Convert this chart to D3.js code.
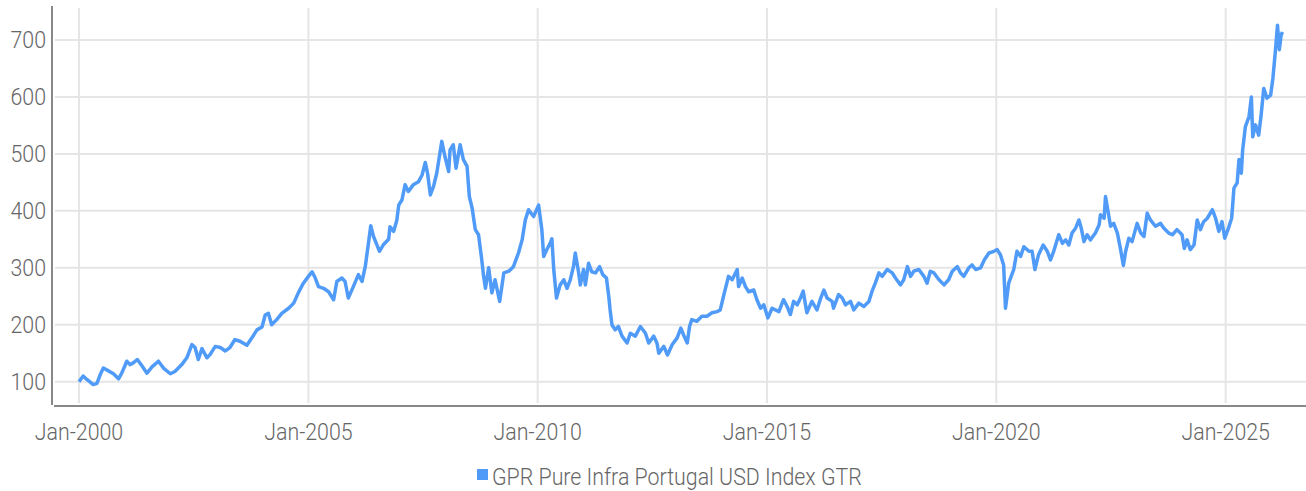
<!DOCTYPE html>
<html>
<head>
<meta charset="utf-8">
<script src="https://cdn.jsdelivr.net/npm/d3@7"></script>
<style>
  html, body { margin: 0; padding: 0; background: #fff; }
  svg { display: block; }
  text { font-family: Roboto, "Liberation Sans Narrow", sans-serif; font-weight: 300; fill: #666; }
</style>
</head>
<body>
<svg id="chart" width="1306" height="491"></svg>
<script>
// ---- data ----
const seriesName = "GPR Pure Infra Portugal USD Index GTR";
const yTicks = [100, 200, 300, 400, 500, 600, 700];
const xTickYears = [2000, 2005, 2010, 2015, 2020, 2025];
// time in decimal years
const time = [
  2000.00,2000.09,2000.17,2000.31,2000.39,2000.46,2000.53,2000.64,2000.75,2000.86,2000.93,
  2001.04,2001.11,2001.18,2001.27,2001.37,2001.48,2001.59,2001.73,2001.84,2001.99,
  2002.09,2002.24,2002.35,2002.46,2002.53,2002.60,2002.68,2002.79,2002.86,2002.97,
  2003.08,2003.19,2003.29,2003.40,2003.51,2003.66,2003.77,2003.88,2003.99,
  2004.06,2004.13,2004.20,2004.31,2004.42,2004.57,2004.68,2004.78,2004.89,2005.00,
  2005.08,2005.15,2005.22,2005.33,2005.44,2005.55,2005.62,2005.73,2005.80,2005.87,2005.98,
  2006.09,2006.17,2006.24,2006.31,2006.36,2006.42,2006.49,2006.55,2006.64,2006.75,2006.78,2006.86,2006.93,2006.97,
  2007.04,2007.11,2007.18,2007.29,2007.40,2007.48,2007.55,2007.60,2007.66,2007.73,2007.80,2007.88,2007.91,2007.98,
  2008.06,2008.09,2008.16,2008.22,2008.31,2008.38,2008.46,2008.51,2008.57,2008.64,2008.71,2008.78,2008.82,2008.86,2008.93,
  2009.00,2009.07,2009.17,2009.26,2009.37,2009.47,2009.58,2009.66,2009.73,2009.80,2009.91,
  2010.02,2010.09,2010.13,2010.20,2010.27,2010.31,2010.35,2010.41,2010.49,2010.57,2010.64,2010.71,2010.78,2010.82,2010.89,2010.93,
  2011.00,2011.04,2011.11,2011.18,2011.26,2011.35,2011.42,2011.50,2011.55,2011.58,2011.62,2011.69,2011.76,2011.84,2011.95,
  2012.02,2012.13,2012.24,2012.35,2012.42,2012.53,2012.60,2012.64,2012.75,2012.83,2012.93,
  2013.04,2013.12,2013.18,2013.26,2013.31,2013.36,2013.47,2013.58,2013.69,2013.80,2013.91,2013.98,
  2014.06,2014.16,2014.24,2014.35,2014.38,2014.46,2014.53,2014.60,2014.71,2014.78,2014.86,2014.93,
  2015.02,2015.11,2015.26,2015.36,2015.44,2015.51,2015.58,2015.66,2015.73,2015.79,2015.87,2015.98,
  2016.09,2016.16,2016.24,2016.31,2016.42,2016.45,2016.56,2016.64,2016.71,2016.82,2016.89,
  2017.00,2017.11,2017.22,2017.29,2017.36,2017.44,2017.51,2017.62,2017.73,2017.80,2017.91,2017.98,
  2018.06,2018.13,2018.20,2018.31,2018.42,2018.49,2018.56,2018.64,2018.75,2018.86,2018.96,
  2019.04,2019.15,2019.22,2019.29,2019.40,2019.47,2019.55,2019.66,2019.74,2019.84,2019.95,
  2020.02,2020.09,2020.16,2020.20,2020.27,2020.31,2020.38,2020.45,2020.53,2020.60,2020.71,2020.78,2020.84,2020.92,
  2021.02,2021.11,2021.18,2021.25,2021.36,2021.44,2021.51,2021.58,2021.65,2021.73,2021.80,2021.85,2021.91,2021.98,
  2022.05,2022.16,2022.24,2022.27,2022.35,2022.38,2022.43,2022.49,2022.56,2022.64,2022.71,2022.77,2022.82,2022.89,2022.96,
  2023.07,2023.15,2023.22,2023.29,2023.36,2023.47,2023.58,2023.65,2023.76,2023.84,2023.94,
  2024.05,2024.10,2024.16,2024.23,2024.31,2024.38,2024.45,2024.52,2024.60,2024.71,2024.78,2024.85,2024.92,2024.98,
  2025.07,2025.13,2025.18,2025.25,2025.29,2025.34,2025.37,2025.43,2025.51,2025.56,2025.59,2025.65,2025.72,2025.77,2025.83,2025.90,2025.98,
  2026.03,2026.08,2026.13,2026.17,2026.21,2026.24
];
const values = [
  100,110,104,95,97,112,124,119,114,105,115,
  136,130,133,139,128,115,126,136,124,114,
  118,130,142,165,160,139,158,142,148,162,
  160,154,160,174,171,164,177,191,196,
  217,220,200,209,220,229,238,256,273,285,
  293,282,267,264,258,244,276,282,276,247,267,
  288,276,302,343,374,355,341,329,341,350,372,364,384,410,
  419,446,434,446,451,463,485,466,428,443,466,507,522,495,
  469,507,516,475,516,490,478,425,405,367,358,314,285,264,300,
  256,279,241,291,294,302,326,349,384,402,390,
  410,367,320,332,343,351,297,247,270,279,264,279,302,326,293,270,
  297,270,308,293,291,302,288,282,250,226,200,191,197,180,168,
  185,180,197,185,168,180,168,150,162,147,165,
  177,194,182,168,197,209,206,215,215,221,223,226,
  253,285,279,297,267,282,267,258,261,244,229,235,
  212,229,223,244,232,218,241,235,247,259,221,241,
  226,244,261,247,241,229,253,247,235,241,226,
  238,232,241,259,273,291,285,297,291,282,270,279,
  302,285,294,297,285,273,294,291,279,270,279,
  294,302,291,285,300,305,297,300,314,326,329,
  332,323,305,229,273,282,297,329,320,337,329,329,297,323,
  340,329,314,329,358,343,349,340,361,370,384,370,346,358,
  349,361,375,393,387,425,402,373,378,361,332,304,329,352,346,
  378,361,355,396,384,373,378,370,361,358,367,
  358,334,349,332,340,384,367,381,387,402,387,364,381,352,
  372,387,440,449,490,466,507,548,566,600,530,551,533,566,615,598,603,
  633,677,726,683,709,714
];

// ---- chart ----
const W = 1306, H = 491;
const svg = d3.select("#chart");
const TEXT_SCALE = 0.89; // horizontal squeeze to imitate the condensed face
const FONT = "24px";

function decToDate(t) {
  const y = Math.floor(t);
  const start = Date.UTC(y, 0, 1), end = Date.UTC(y + 1, 0, 1);
  return new Date(start + (t - y) * (end - start));
}
const data = time.map((t, i) => ({ date: decToDate(t), value: values[i] }));

const x = d3.scaleUtc()
  .domain([new Date(Date.UTC(2000, 0, 1)), new Date(Date.UTC(2025, 0, 1))])
  .range([79, 1225.7]);
const y = d3.scaleLinear().domain([100, 700]).range([381.7, 40]);

const plotLeft = 54, plotRight = W, plotTop = 6, plotBottom = 406;

// horizontal grid
svg.append("g").selectAll("line").data(yTicks).join("line")
  .attr("x1", plotLeft + 1).attr("x2", plotRight)
  .attr("y1", d => y(d)).attr("y2", d => y(d))
  .attr("stroke", "#e5e5e5").attr("stroke-width", 2);

// vertical grid
const xTickDates = xTickYears.map(yr => new Date(Date.UTC(yr, 0, 1)));
svg.append("g").selectAll("line").data(xTickDates).join("line")
  .attr("x1", d => x(d)).attr("x2", d => x(d))
  .attr("y1", 8).attr("y2", 403)
  .attr("stroke", "#e5e5e5").attr("stroke-width", 2);

// axes lines
svg.append("line").attr("x1", 52).attr("x2", 52).attr("y1", plotTop).attr("y2", 405)
  .attr("stroke", "#888").attr("stroke-width", 2);
svg.append("line").attr("x1", plotLeft).attr("x2", plotRight).attr("y1", plotBottom).attr("y2", plotBottom)
  .attr("stroke", "#888").attr("stroke-width", 2);

// y tick labels
svg.append("g").selectAll("text").data(yTicks).join("text")
  .attr("transform", d => `translate(46,${y(d)}) scale(${TEXT_SCALE},1)`)
  .attr("dy", "0.35em")
  .attr("text-anchor", "end")
  .style("font-size", FONT)
  .text(d => d);

// x tick labels
const fmt = d3.utcFormat("%b-%Y");
svg.append("g").selectAll("text").data(xTickDates).join("text")
  .attr("transform", d => `translate(${x(d)},432) scale(${TEXT_SCALE},1)`)
  .attr("dy", "0.35em")
  .attr("text-anchor", "middle")
  .style("font-size", FONT)
  .text(d => fmt(d));

// line
const line = d3.line().x(d => x(d.date)).y(d => y(d.value));
svg.append("path").datum(data)
  .attr("d", line)
  .attr("fill", "none")
  .attr("stroke", "#4f9bf7")
  .attr("stroke-width", 3.5)
  .attr("stroke-linejoin", "round");

// legend
const lg = svg.append("g");
lg.append("rect").attr("x", 477).attr("y", 469).attr("width", 11).attr("height", 11).attr("fill", "#4f9bf7");
lg.append("text")
  .attr("transform", `translate(492,476.5) scale(${TEXT_SCALE},1)`)
  .attr("dy", "0.35em")
  .style("font-size", FONT).text(seriesName);
</script>
</body>
</html>
